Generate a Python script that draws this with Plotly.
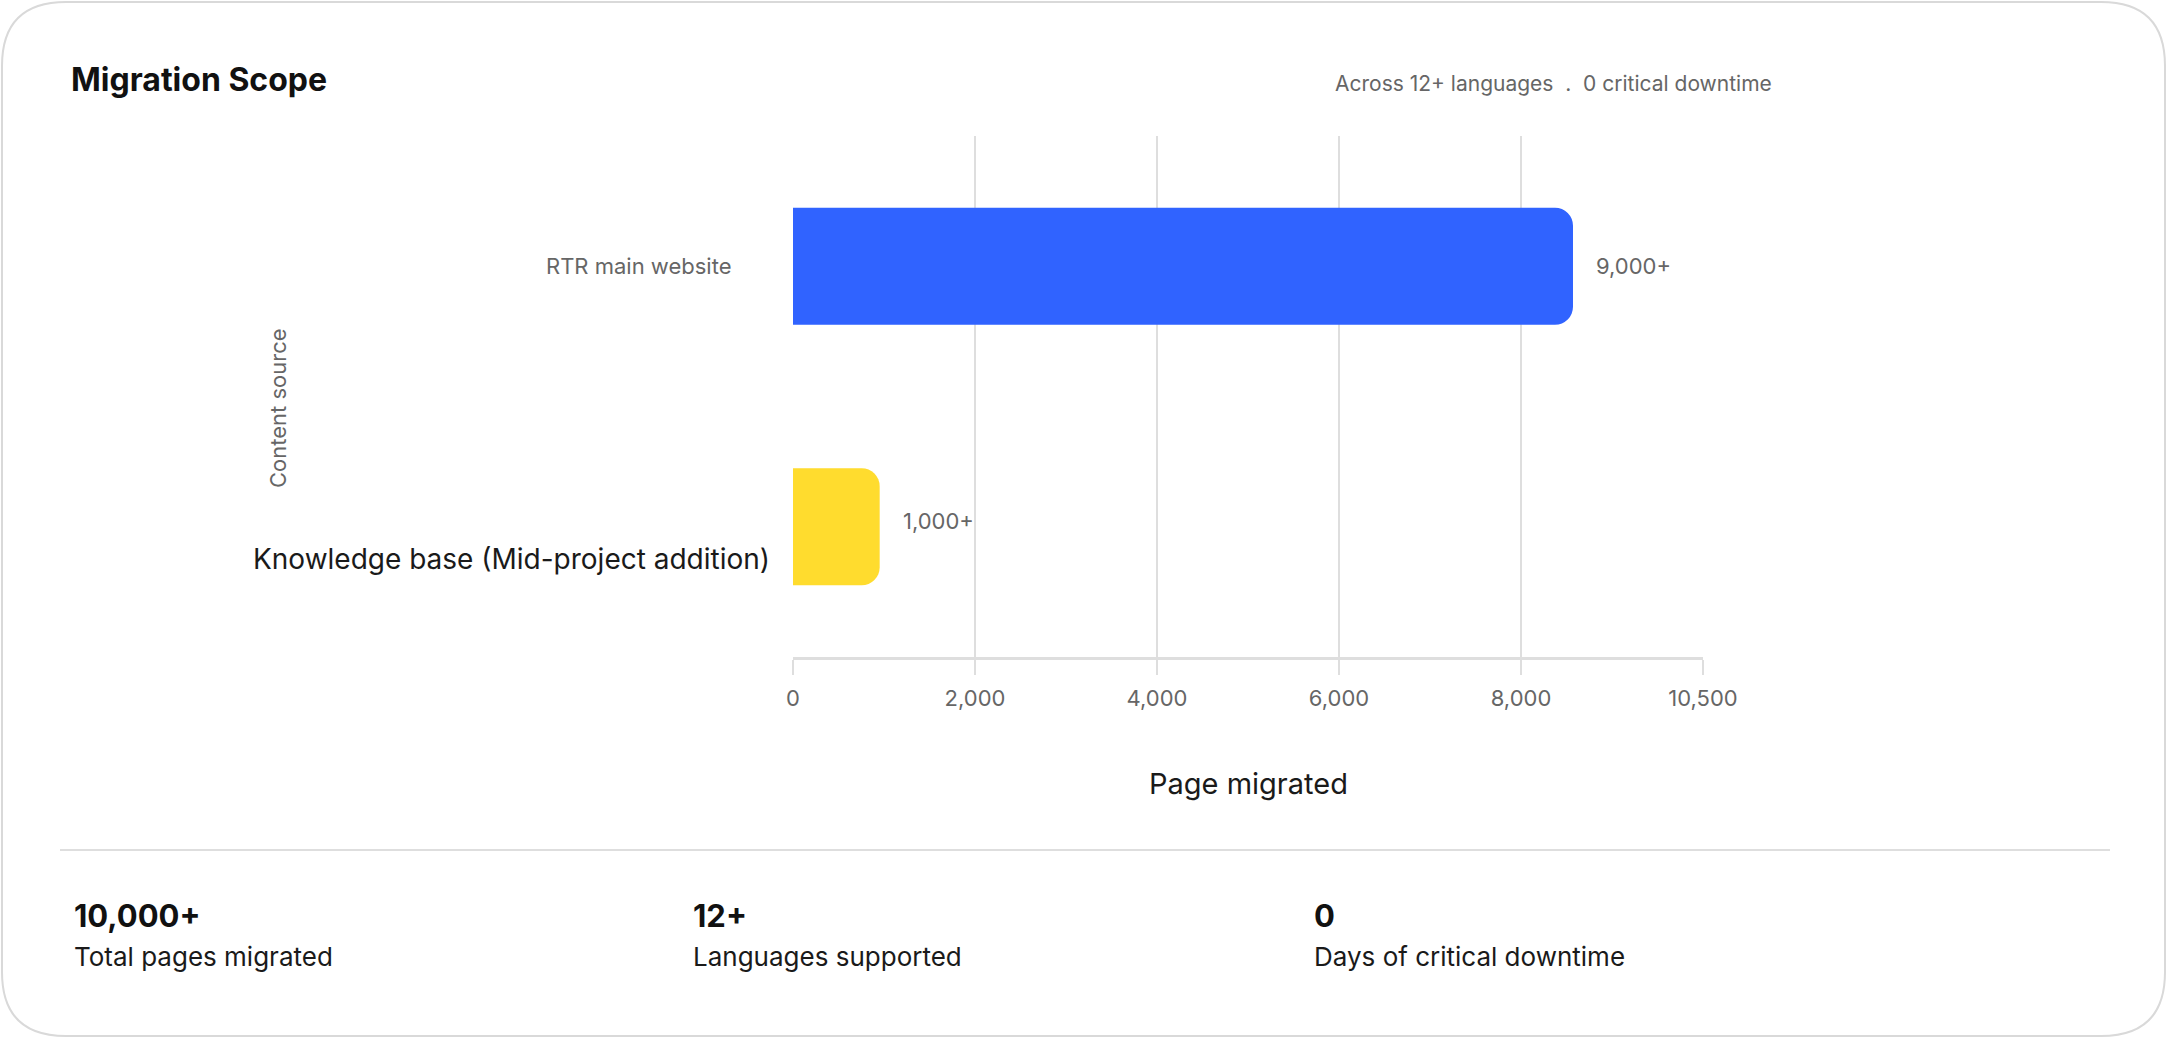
import plotly.graph_objects as go

# data
sources = ["RTR main website", "Knowledge base (Mid-project addition)"]
pages = [9000, 1000]
page_labels = ["9,000+", "1,000+"]
bar_colors = ["#3063FF", "#FFDC2E"]

tick_vals = [0, 2100, 4200, 6300, 8400, 10500]
tick_text = ["0", "2,000", "4,000", "6,000", "8,000", "10,500"]

stat_values = ["10,000+", "12+", "0"]
stat_labels = ["Total pages migrated", "Languages supported", "Days of critical downtime"]

FONT = "Inter"
W, H = 2168, 1038
L, R, T, B = 793, 465, 136, 381
PW, PH = W - L - R, H - T - B


def px(x):
    # pixel -> paper x
    return (x - L) / PW


def py(y):
    # pixel -> paper y
    return (H - B - y) / PH


def text_at(x, y, text, size, color, **kw):
    fig.add_annotation(x=px(x), y=py(y), xref="paper", yref="paper", text=text,
                       showarrow=False, xanchor=kw.pop("xanchor", "left"),
                       yanchor="middle", font=dict(size=size, color=color), **kw)


fig = go.Figure()

fig.add_trace(go.Bar(
    x=pages,
    y=sources,
    orientation="h",
    marker=dict(color=bar_colors, cornerradius=18, line=dict(width=0)),
    hoverinfo="skip",
))

fig.update_layout(
    width=W,
    height=H,
    margin=dict(l=L, r=R, t=T, b=B),
    paper_bgcolor="white",
    plot_bgcolor="white",
    showlegend=False,
    bargap=0.55,
    font=dict(family=FONT, color="#666666"),
    xaxis=dict(
        range=[0, 10500],
        tickvals=tick_vals,
        ticktext=tick_text,
        showgrid=True,
        gridcolor="#dedede",
        gridwidth=1.5,
        zeroline=False,
        showline=True,
        linecolor="#dedede",
        linewidth=3,
        ticks="outside",
        ticklen=15,
        tickwidth=1.5,
        tickcolor="#dedede",
        ticklabelstandoff=5,
        tickfont=dict(size=22, color="#666666"),
        fixedrange=True,
    ),
    yaxis=dict(
        autorange="reversed",
        showticklabels=False,
        showgrid=False,
        zeroline=False,
        showline=False,
        fixedrange=True,
    ),
)

# category labels (styled individually as in the original)
fig.add_annotation(x=px(734), y=sources[0], xref="paper", yref="y",
                   text=sources[0], showarrow=False, xanchor="right", yanchor="middle",
                   font=dict(size=22, color="#666666"))
fig.add_annotation(x=px(772), y=sources[1], xref="paper", yref="y", yshift=-32,
                   text=sources[1], showarrow=False, xanchor="right", yanchor="middle",
                   font=dict(size=28, color="#1a1a1a"))

# value labels at bar ends
for s, v, lab, ys in zip(sources, pages, page_labels, [0, 6]):
    fig.add_annotation(x=v, y=s, xref="x", yref="y", text=lab, showarrow=False,
                       xanchor="left", yanchor="middle", xshift=21, yshift=ys,
                       font=dict(size=22, color="#666666"))

# axis titles
text_at(278, 408, "Content source", 22, "#666666", xanchor="center", textangle=-90)
text_at(L + PW / 2, 783, "Page migrated", 29, "#1a1a1a", xanchor="center")

# header
text_at(69, 80, "<b>Migration Scope</b>", 32, "#111111")
text_at(1333, 83, "Across 12+ languages  .  0 critical downtime", 21, "#666666")

# stats row
for sx, val, lab in zip([72, 691, 1312], stat_values, stat_labels):
    text_at(sx, 915, f"<b>{val}</b>", 31, "#111111")
    text_at(sx, 956, lab, 26, "#1a1a1a")

# divider
fig.add_shape(type="line", xref="paper", yref="paper",
              x0=px(60), x1=px(2110), y0=py(850), y1=py(850),
              line=dict(color="#dedede", width=2))

# card border with rounded corners
x0, x1, y0, y1, r = 2, 2165, 2, 1036, 64
card = (
    f"M {px(x0 + r)} {py(y0)} L {px(x1 - r)} {py(y0)} "
    f"Q {px(x1)} {py(y0)} {px(x1)} {py(y0 + r)} "
    f"L {px(x1)} {py(y1 - r)} "
    f"Q {px(x1)} {py(y1)} {px(x1 - r)} {py(y1)} "
    f"L {px(x0 + r)} {py(y1)} "
    f"Q {px(x0)} {py(y1)} {px(x0)} {py(y1 - r)} "
    f"L {px(x0)} {py(y0 + r)} "
    f"Q {px(x0)} {py(y0)} {px(x0 + r)} {py(y0)} Z"
)
fig.add_shape(type="path", xref="paper", yref="paper", path=card,
              line=dict(color="#d9d9d9", width=2), layer="below")

fig.write_html(
    "out.html",
    config={"displayModeBar": False},
    post_script="document.body.style.margin='0';document.body.style.overflow='hidden';",
)
